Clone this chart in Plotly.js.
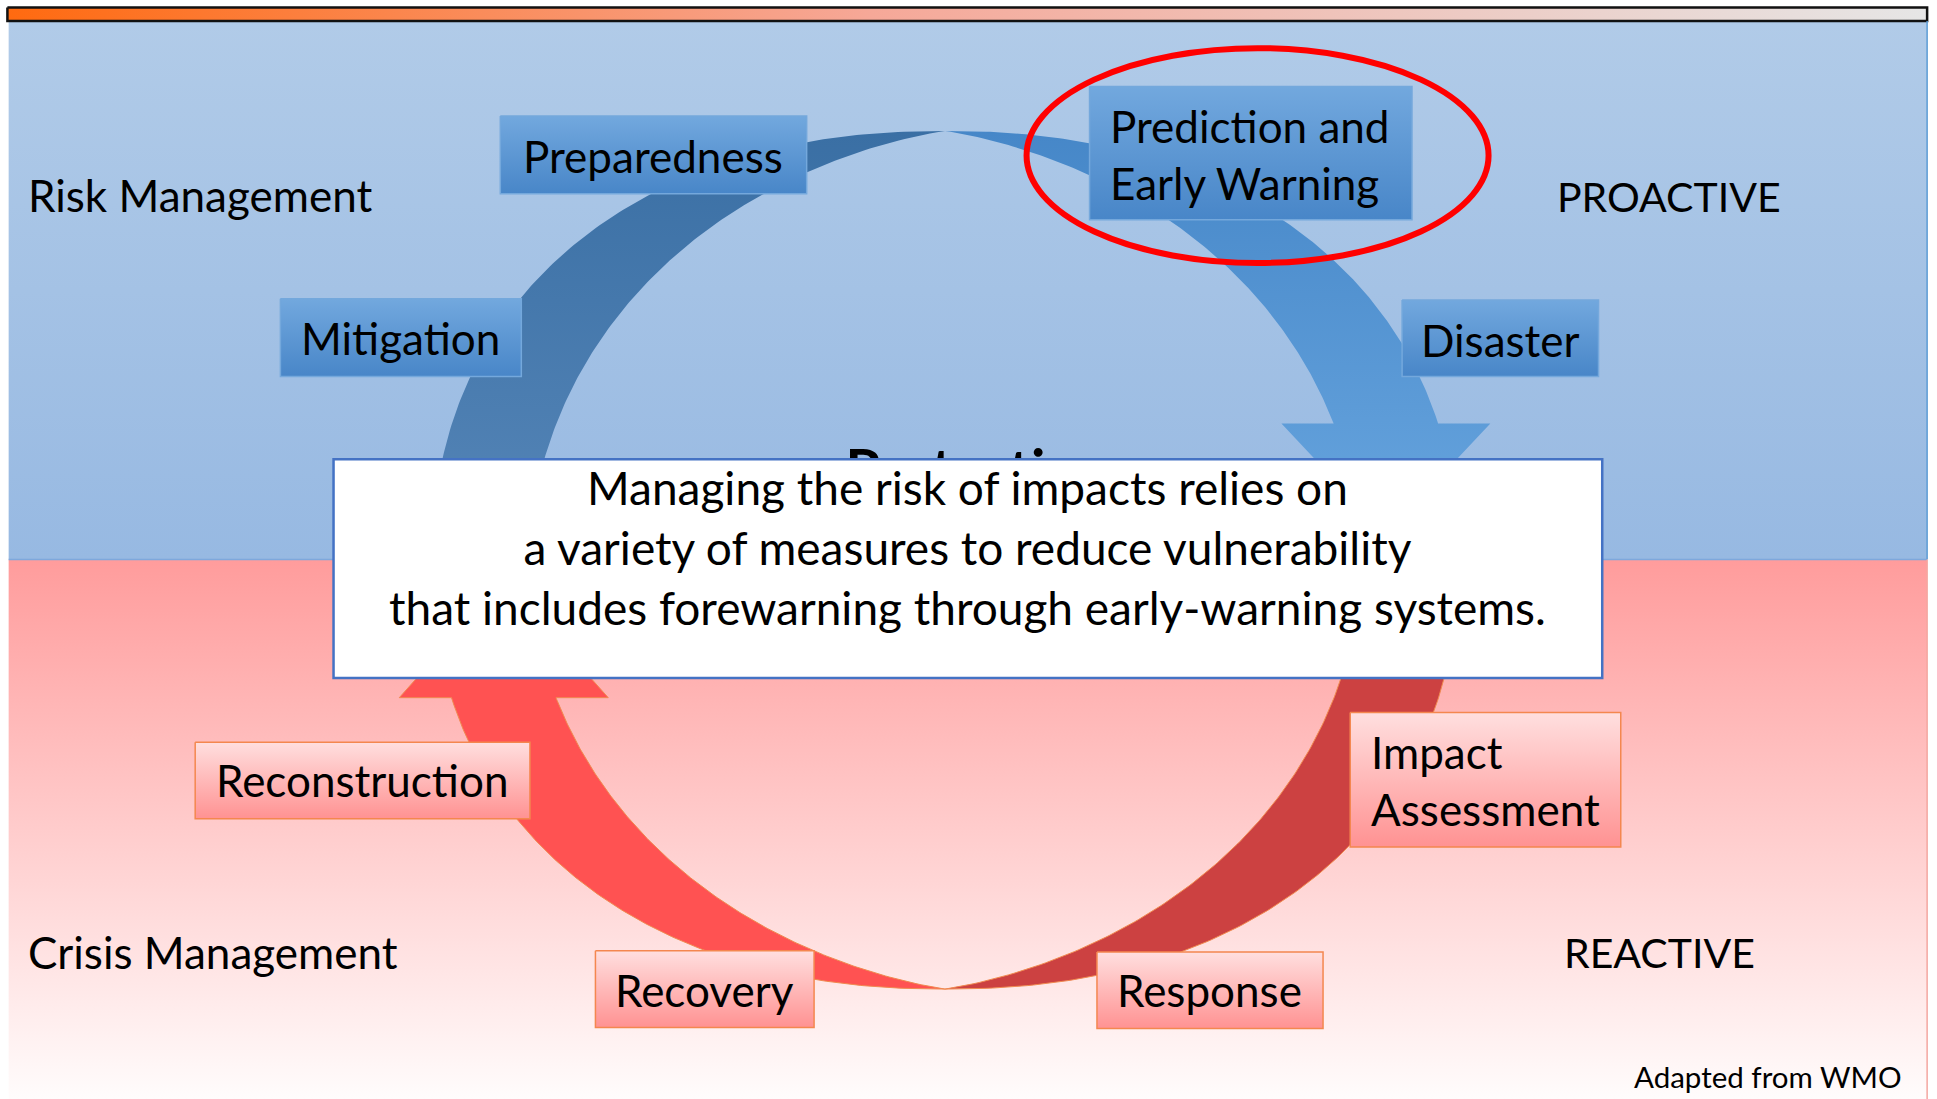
<!DOCTYPE html>
<html><head><meta charset="utf-8">
<script src="https://cdn.plot.ly/plotly-3.0.1.min.js"></script>
<style>html,body{margin:0;padding:0;background:#fff;overflow:hidden}#chart{width:1937px;height:1099px}</style>
</head><body><div id="chart"></div><script>
// ---------- content ----------
const boxLabels = ['Preparedness', 'Prediction and<br>Early Warning', 'Disaster', 'Mitigation',
                   'Reconstruction', 'Impact<br>Assessment', 'Recovery', 'Response'];
const boxPhase  = ['risk', 'risk', 'risk', 'risk', 'crisis', 'crisis', 'crisis', 'crisis'];
const sideLabels = ['Risk Management', 'PROACTIVE', 'Crisis Management', 'REACTIVE'];
const noteLines = ['Managing the risk of impacts relies on',
                   'a variety of measures to reduce vulnerability',
                   'that includes forewarning through early-warning systems.'];
const centerLabel = 'Protection';
const sourceLabel = 'Adapted from WMO';

// ---------- layout geometry (diagram space 1568 x 890) ----------
const boxGeom = [ // x0, y0, x1, y1, text anchor x, text y, align
  [405, 94, 653, 157, 529, 126, 'center'],
  [882, 70, 1143, 178, 897, 125, 'left'],
  [1135, 243, 1294, 305, 1214, 275, 'center'],
  [227, 242, 422, 305, 324, 274, 'center'],
  [158, 601, 429, 663, 293, 632, 'center'],
  [1093, 577, 1312, 686, 1108, 632, 'left'],
  [482, 770, 659, 832, 570, 802, 'center'],
  [888, 771, 1071, 833, 979, 802, 'center']
];
const sideGeom = [[21, 158, 'left', 44], [1351, 159, 'center', 41], [21, 771, 'left', 44], [1343, 771, 'center', 41]];

const FONT = 'Lato, "Open Sans", sans-serif';
const cx = 765, cy = 455, A = 415, BT = 349, BB = 346, NEXP = 2.2;

function sePt(th) {
  const t = th * Math.PI / 180, c = Math.cos(t), s = Math.sin(t);
  const x = cx + A * Math.sign(c) * Math.pow(Math.abs(c), 2 / NEXP);
  const b = s >= 0 ? BT : BB;
  const y = cy - b * Math.sign(s) * Math.pow(Math.abs(s), 2 / NEXP);
  return [x, y];
}
function prof(d) { return 80 * Math.sin(Math.min(90, d * 90 / 75) * Math.PI / 180); }
function band(t0, t1, steps) {
  const out = [], inn = [];
  for (let i = 0; i <= steps; i++) {
    const th = t0 + (t1 - t0) * i / steps;
    const p = sePt(th), w = prof(Math.abs(th - t0));
    const dx = p[0] - cx, dy = p[1] - cy, r = Math.hypot(dx, dy);
    out.push(p); inn.push([cx + dx * (1 - w / r), cy + dy * (1 - w / r)]);
  }
  return {out, inn};
}
function clip(pts, yb, dir) {
  const res = [pts[0]];
  for (let i = 1; i < pts.length; i++) {
    const a = pts[i - 1], b = pts[i];
    const pass = dir > 0 ? b[1] >= yb : b[1] <= yb;
    if (pass) { const f = (yb - a[1]) / (b[1] - a[1]); res.push([a[0] + f * (b[0] - a[0]), yb]); return res; }
    res.push(b);
  }
  return res;
}
function polyTrace(pts, fillSpec, line) {
  const t = {type: 'scatter', x: pts.map(p => p[0]), y: pts.map(p => p[1]), mode: 'lines', fill: 'toself',
    line: line || {width: 0, color: 'rgba(0,0,0,0)'}, hoverinfo: 'skip', showlegend: false};
  if (fillSpec.grad) t.fillgradient = fillSpec.grad; else t.fillcolor = fillSpec.color;
  return t;
}
function rectPts(x0, y0, x1, y1) { return [[x0, y0], [x1, y0], [x1, y1], [x0, y1], [x0, y0]]; }
function vgrad(c0, c1, s, e) { return {grad: {type: 'vertical', colorscale: [[0, c0], [1, c1]], start: s, stop: e}}; }

const traces = [];
// backgrounds
traces.push(polyTrace(rectPts(7, 17, 1560, 453), vgrad('#b1cbe8', '#97b9e2', 17, 453)));
traces.push(polyTrace(rectPts(7, 453, 1560, 890), vgrad('#ff9c9c', '#fffcfc', 453, 890)));
// top bar
traces.push(polyTrace(rectPts(6, 6, 1560, 17),
  {grad: {type: 'horizontal', colorscale: [[0, '#ff6a10'], [0.45, '#f6a898'], [1, '#e6e6e6']], start: 6, stop: 1560}},
  {width: 2.5, color: '#111'}));

// arcs
(function () {
  // top-left
  let b = band(90, 185, 160);
  traces.push(polyTrace(b.out.concat(b.inn.slice().reverse()), vgrad('#3a6fa4', '#5686b8', 106, 455)));
  // top-right with arrow head down
  b = band(90, -5, 240);
  let o = clip(b.out, 343, 1), n = clip(b.inn, 343, 1);
  let xo = o[o.length - 1][0], xi = n[n.length - 1][0], mid = (xo + xi) / 2, hw = Math.abs(xo - xi);
  let pts = o.concat([[mid + hw, 343], [mid, 433], [mid - hw, 343]], n.slice().reverse());
  traces.push(polyTrace(pts, vgrad('#4687c8', '#66a4de', 106, 430)));
  // bottom-right
  b = band(270, 365, 160);
  traces.push(polyTrace(b.out.concat(b.inn.slice().reverse()), {color: '#cc4141'}, {width: 1, color: '#f08a50'}));
  // bottom-left with arrow head up
  b = band(270, 175, 240);
  o = clip(b.out, 565, -1); n = clip(b.inn, 565, -1);
  xo = o[o.length - 1][0]; xi = n[n.length - 1][0]; mid = (xo + xi) / 2; hw = Math.abs(xo - xi);
  pts = o.concat([[mid - hw, 565], [mid, 470], [mid + hw, 565]], n.slice().reverse());
  traces.push(polyTrace(pts, {color: '#ff5252'}, {width: 1, color: '#f08a50'}));
})();

// boxes
boxGeom.forEach((g, i) => {
  const blue = boxPhase[i] === 'risk';
  traces.push(polyTrace(rectPts(g[0], g[1], g[2], g[3]),
    blue ? vgrad('#72a8de', '#4886c8', g[1], g[3]) : vgrad('#ffdfdf', '#ff9292', g[1], g[3]),
    blue ? {width: 1.5, color: '#74a8dc'} : {width: 1.5, color: '#f4874f'}));
});

// centre label (mostly covered by the note box, as in the original)
traces.push({type: 'scatter', x: [791], y: [385], mode: 'text', text: [centerLabel], textposition: 'middle center',
  textfont: {family: FONT, size: 56, color: '#000', weight: 'bold'}, hoverinfo: 'skip', showlegend: false});

const shapes = [
  {type: 'line', x0: 7, x1: 1560, y0: 453, y1: 453, line: {color: '#7ea8dc', width: 1.5}, layer: 'above'},
  {type: 'line', x0: 1560, x1: 1560, y0: 17, y1: 453, line: {color: '#5b9bd5', width: 1.5}, layer: 'above'},
  {type: 'line', x0: 1560, x1: 1560, y0: 453, y1: 890, line: {color: '#f4a6a0', width: 1.5}, layer: 'above'},
  {type: 'rect', x0: 270, x1: 1297, y0: 372, y1: 549, fillcolor: '#ffffff', line: {color: '#4472c4', width: 2.5}, layer: 'above'},
  {type: 'circle', x0: 831, x1: 1205, y0: 39, y1: 213, line: {color: '#ff0000', width: 6}, layer: 'above'}
];

const annotations = [];
boxGeom.forEach((g, i) => {
  annotations.push({x: g[4], y: g[5], xref: 'x', yref: 'y', text: boxLabels[i], showarrow: false,
    xanchor: g[6] === 'left' ? 'left' : 'center', yanchor: 'middle', align: g[6],
    font: {family: FONT, size: 44, color: '#000'}});
});
sideGeom.forEach((g, i) => {
  annotations.push({x: g[0], y: g[1], xref: 'x', yref: 'y', text: sideLabels[i], showarrow: false,
    xanchor: g[2], yanchor: 'middle', font: {family: FONT, size: g[3], color: '#000'}});
});
annotations.push({x: 783, y: 443, xref: 'x', yref: 'y', text: noteLines.join('<br>'), showarrow: false,
  xanchor: 'center', yanchor: 'middle', align: 'center', font: {family: FONT, size: 46, color: '#000'}});
annotations.push({x: 1541, y: 872, xref: 'x', yref: 'y', text: sourceLabel, showarrow: false,
  xanchor: 'right', yanchor: 'middle', font: {family: FONT, size: 29.5, color: '#000'}});

const layout = {
  width: 1937, height: 1099, margin: {l: 0, r: 0, t: 0, b: 0},
  paper_bgcolor: '#ffffff', plot_bgcolor: '#ffffff',
  xaxis: {range: [0, 1568], visible: false, fixedrange: true},
  yaxis: {range: [890, 0], visible: false, fixedrange: true},
  shapes, annotations, showlegend: false
};
Plotly.newPlot('chart', traces, layout, {displayModeBar: false, staticPlot: true});
</script></body></html>
